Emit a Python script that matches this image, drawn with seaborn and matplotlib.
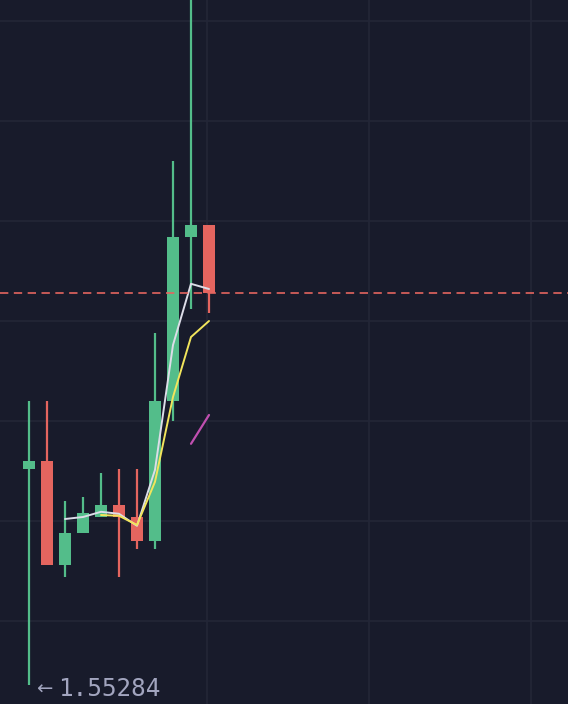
import matplotlib
matplotlib.use('Agg')
import matplotlib.pyplot as plt
import numpy as np
import pandas as pd
import seaborn as sns

# candle data (11 bars)
bar_idx = list(range(11))
opens = [1.55338, 1.55340, 1.55314, 1.55322, 1.55326, 1.55329, 1.55326, 1.55320, 1.55355, 1.55396, 1.55399]
highs = [1.55355, 1.55355, 1.55330, 1.55331, 1.55337, 1.55338, 1.55338, 1.55372, 1.55415, 1.55480, 1.55399]
lows = [1.55284, 1.55314, 1.55311, 1.55322, 1.55326, 1.55311, 1.55318, 1.55318, 1.55350, 1.55378, 1.55377]
closes = [1.55340, 1.55314, 1.55322, 1.55327, 1.55329, 1.55326, 1.55320, 1.55355, 1.55396, 1.55399, 1.55382]

# moving averages
ma_fast_idx = [2, 3, 4, 5, 6, 7, 8, 9, 10]
ma_fast = [1.553255, 1.553260, 1.553273, 1.553268, 1.553238, 1.553378, 1.553690, 1.553843, 1.553830]
ma_slow_idx = [4, 5, 6, 7, 8, 9, 10]
ma_slow = [1.553265, 1.553263, 1.553240, 1.553348, 1.553560, 1.553710, 1.553750]
ma_extra_idx = [9, 10]
ma_extra = [1.553443, 1.553515]

low_label = '1.55284'

bg = '#181b2b'
grid_col = '#232637'
up_col = '#53bd8a'
down_col = '#e4655f'
text_col = '#a2a5bf'

sns.set_theme(style='dark', rc={'axes.facecolor': bg, 'figure.facecolor': bg,
                                'grid.color': grid_col, 'grid.linewidth': 1.2})

fig = plt.figure(figsize=(5.68, 7.04), dpi=100)
ax = fig.add_axes([0, 0, 1, 1])
ax.set_facecolor(bg)

# candles
colors = [up_col if c >= o else down_col for o, c in zip(opens, closes)]
ax.vlines(bar_idx, lows, highs, colors=colors, linewidth=1.6, zorder=2)
body = np.array(closes) - np.array(opens)
ax.bar(bar_idx, body, bottom=opens, width=0.72, color=colors, linewidth=0, zorder=3)

# moving average lines
df_fast = pd.DataFrame({'i': ma_fast_idx, 'v': ma_fast})
df_slow = pd.DataFrame({'i': ma_slow_idx, 'v': ma_slow})
df_extra = pd.DataFrame({'i': ma_extra_idx, 'v': ma_extra})
sns.lineplot(data=df_fast, x='i', y='v', ax=ax, color='#dcdde8', linewidth=1.4, zorder=5)
sns.lineplot(data=df_slow, x='i', y='v', ax=ax, color='#f2e55c', linewidth=1.4, zorder=5)
sns.lineplot(data=df_extra, x='i', y='v', ax=ax, color='#c04fb0', linewidth=1.6, zorder=5)

# last price line
ax.axhline(closes[-1], color=down_col, linestyle=(0, (5, 3.3)), linewidth=1.2, zorder=6)

# low marker text
ax.annotate('←', xy=(0, lows[0]), xytext=(15, -4), textcoords='offset pixels',
            ha='center', va='center', fontsize=14, color=text_col, family='DejaVu Sans')
ax.annotate(low_label, xy=(0, lows[0]), xytext=(29, -4), textcoords='offset pixels',
            ha='left', va='center', fontsize=17.5, color=text_col, family='DejaVu Sans Mono')

ax.set_xlim(-29 / 18, 539 / 18)
ax.set_ylim(1.5527925, 1.5545525)
ax.set_yticks(np.arange(1.5530, 1.55451, 0.00025))
ax.set_xticks([9.9, 18.9, 27.9])
ax.grid(True, color=grid_col, linewidth=1.2)
ax.set_axisbelow(True)
ax.tick_params(length=0, labelleft=False, labelbottom=False)
ax.set_xlabel('')
ax.set_ylabel('')
for s in ax.spines.values():
    s.set_visible(False)

fig.savefig('out.png', dpi=100, facecolor=bg)
